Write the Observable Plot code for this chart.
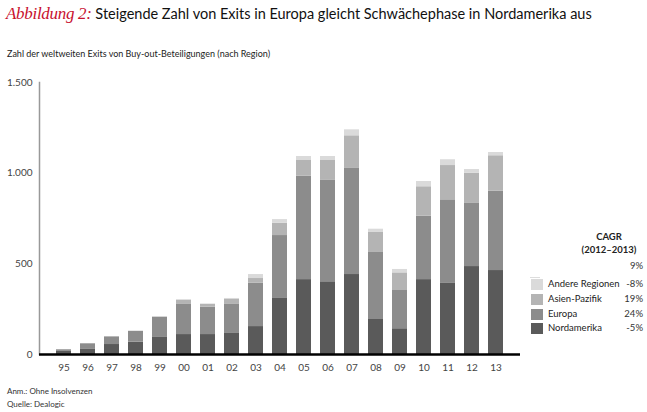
<!DOCTYPE html>
<html><head><meta charset="utf-8">
<script src="https://cdn.jsdelivr.net/npm/d3@7"></script>
<script src="https://cdn.jsdelivr.net/npm/@observablehq/plot@0.6"></script>
<style>
body{margin:0;background:#fff;font-family:Lato,"Open Sans",sans-serif;}
#wrap{position:relative;width:647px;height:412px;overflow:hidden;}
.abs{position:absolute;white-space:nowrap;}
#chart{position:absolute;left:0;top:0;}
</style></head><body>
<div id="wrap">
  <div class="abs" id="title" style="left:6px;top:4px;font-size:14.5px;color:#111;"><span style="font-family:'Liberation Serif',serif;font-style:italic;color:#c8102e;font-size:17px;letter-spacing:-0.3px;">Abbildung 2:</span> Steigende Zahl von Exits in Europa gleicht Schwächephase in Nordamerika aus</div>
  <div class="abs" id="subtitle" style="left:7px;top:48px;font-size:9px;color:#222;"></div>
  <div id="chart"></div>
  <div id="legend"></div>
  <div class="abs" id="note1" style="left:7px;top:386px;font-size:8px;color:#333;"></div>
  <div class="abs" id="note2" style="left:7px;top:399px;font-size:8px;color:#333;"></div>
</div>
<script>
const years = ["95","96","97","98","99","00","01","02","03","04","05","06","07","08","09","10","11","12","13"];
const nordamerika = [20,31,55,68,94,110,110,116,154,309,413,401,441,193,142,413,395,485,463];
const europa      = [6,28,42,60,112,169,151,160,239,347,570,559,588,373,211,350,458,351,438];
const asienPazifik= [0,0,2,0,0,20,15,30,26,68,87,110,177,107,97,162,189,164,195];
const andere      = [0,0,0,0,0,4,3,3,22,20,22,22,33,18,19,29,32,20,18];
const regions = ["Nordamerika","Europa","Asien-Pazifik","Andere Regionen"];
const colors  = ["#5a5a5a","#8c8c8c","#b4b4b4","#dadada"];
const legendOrder = ["Andere Regionen","Asien-Pazifik","Europa","Nordamerika"];
const cagr = {"Andere Regionen":"-8%","Asien-Pazifik":"19%","Europa":"24%","Nordamerika":"-5%"};
const cagrTotal = "9%";
const yTicks = [0,500,1000,1500];
const titleText = "Zahl der weltweiten Exits von Buy-out-Beteiligungen (nach Region)";

document.getElementById("subtitle").textContent = titleText;
document.getElementById("note1").textContent = "Anm.: Ohne Insolvenzen";
document.getElementById("note2").textContent = "Quelle: Dealogic";

const series = [nordamerika, europa, asienPazifik, andere];
const data = [];
years.forEach((y,i) => regions.forEach((r,j) => data.push({year:y, region:r, value:series[j][i]})));

const fmt = d => d3.format(",")(d).replace(/,/g,".");

const plot = Plot.plot({
  width: 647, height: 412,
  marginTop: 82, marginBottom: 58, marginLeft: 39, marginRight: 127,
  style: {fontFamily: "Lato, sans-serif", fontSize: "10px", color: "#333", background: "transparent"},
  x: {domain: years, paddingInner: 0.38, paddingOuter: 0.63, label: null},
  y: {domain: [0,1500], label: null},
  color: {domain: regions, range: colors},
  marks: [
    Plot.frame({anchor: "left", stroke: "#999", strokeWidth: 1.5}),
    Plot.barY(data, Plot.stackY({x: "year", y: "value", fill: "region", order: regions})),
    Plot.ruleY([0], {stroke: "#000", strokeWidth: 2.5}),
    Plot.axisY({ticks: yTicks, tickSize: 0, tickPadding: 7, tickFormat: fmt, fill: "#444", fontSize: 10, label: null}),
    Plot.axisX({tickSize: 0, tickPadding: 9, fill: "#444", fontSize: 10, label: null})
  ]
});
document.getElementById("chart").appendChild(plot);

const lg = document.getElementById("legend");
let html = `<div class="abs" style="right:3px;top:230px;width:70px;text-align:center;font-size:9.5px;font-weight:bold;color:#222;line-height:13px;">CAGR<br>(2012–2013)</div>`;
html += `<div class="abs" style="right:4px;top:260px;font-size:9.5px;color:#333;">${cagrTotal}</div>`;
html += `<div class="abs" style="left:530px;top:277px;width:10px;height:1px;background:#ddd;"></div>`;
legendOrder.forEach((r,i) => {
  const top = 279 + i*14.8;
  const c = colors[regions.indexOf(r)];
  html += `<div class="abs" style="left:531px;top:${top}px;width:12px;height:11px;background:${c};"></div>`;
  html += `<div class="abs" style="left:548px;top:${top-1}px;font-size:9.5px;color:#222;">${r}</div>`;
  html += `<div class="abs" style="right:4px;top:${top-1}px;font-size:9.5px;color:#333;">${cagr[r]}</div>`;
});
lg.innerHTML = html;
</script>
</body></html>
